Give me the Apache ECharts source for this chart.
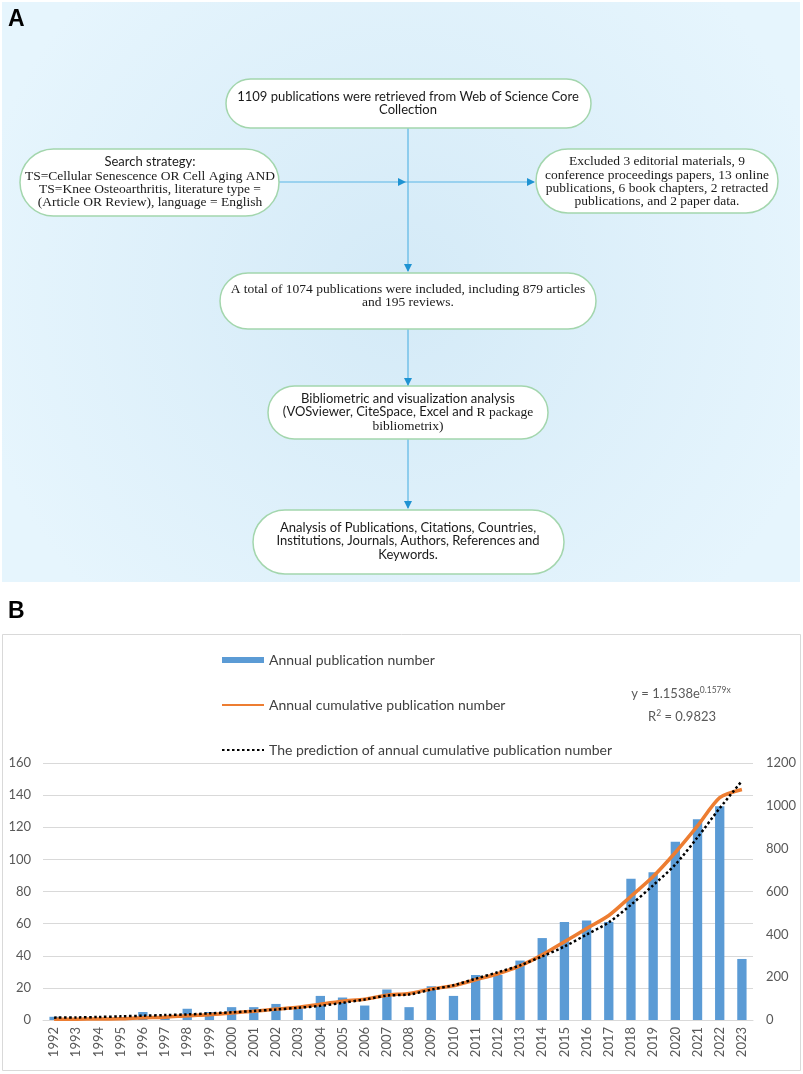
<!DOCTYPE html>
<html>
<head>
<meta charset="utf-8">
<script src="https://cdn.jsdelivr.net/npm/echarts@6/dist/echarts.min.js"></script>
<style>
html,body{margin:0;padding:0;background:#fff;}
#main{width:803px;height:1074px;}
</style>
</head>
<body>
<div id="main"></div>
<script>
// ---- data ----
const years = ['1992','1993','1994','1995','1996','1997','1998','1999','2000','2001','2002','2003','2004','2005','2006','2007','2008','2009','2010','2011','2012','2013','2014','2015','2016','2017','2018','2019','2020','2021','2022','2023'];
const annualPublications = [2,1,1,1,5,2,7,5,8,8,10,8,15,14,9,19,8,21,15,28,28,37,51,61,62,61,88,92,111,125,133,38];
const cumulativePublications = [3,4,5,6,11,13,20,25,33,41,51,59,74,88,97,116,124,145,160,188,216,253,304,365,427,488,578,670,782,906,1038,1076];
const predictedCumulative = [11,12,14,17,20,23,26,31,36,42,49,57,66,80,96,114,119,142,162,193,223,255,297,343,399,456,538,629,726,853,989,1116];
const leftTicks = {min:0, max:160, interval:20};
const rightTicks = {min:0, max:1200, interval:200};
const seriesNames = ['Annual publication number','Annual cumulative publication number','The prediction of annual cumulative publication number'];

const SANS = 'Lato, "Liberation Sans", sans-serif';
const SERIF = '"Liberation Serif", "DejaVu Serif", serif';

// ---- flowchart (panel A) ----
const G = [];
G.push({type:'rect', z:0, shape:{x:2,y:2,width:798,height:580},
  style:{fill:{type:'radial',x:0.5,y:0.5,r:0.75,colorStops:[{offset:0,color:'#d4eaf7'},{offset:1,color:'#e6f5fd'}]}}});
G.push({type:'text', z:5, style:{text:'A', x:8, y:8, font:'bold 23px "Liberation Sans", Arial, sans-serif', fill:'#000'}});
function box(x1,y1,x2,y2){
  G.push({type:'rect', z:2, shape:{x:x1,y:y1,width:x2-x1,height:y2-y1,r:(y2-y1)/2},
    style:{fill:'#ffffff', stroke:'#a3d6ad', lineWidth:1.5}});
}
function txt(x,y,text,font,rich){
  const s = {text:text, x:x, y:y, align:'center', verticalAlign:'middle', fill:'#1a1a1a', font:font};
  if(rich) s.rich = rich;
  G.push({type:'text', z:5, style:s});
}
function line(x1,y1,x2,y2){
  G.push({type:'line', z:1, shape:{x1,y1,x2,y2}, style:{stroke:'#5ab6e5', lineWidth:1.2}});
}
function arrowDown(x,y){
  G.push({type:'polygon', z:3, shape:{points:[[x-4,y-8],[x+4,y-8],[x,y]]}, style:{fill:'#1f93d2'}});
}
function arrowRight(x,y){
  G.push({type:'polygon', z:3, shape:{points:[[x-8,y-4],[x-8,y+4],[x,y]]}, style:{fill:'#1f93d2'}});
}
line(408,128,408,271); arrowDown(408,272);
line(279,182,534,182); arrowRight(406,182); arrowRight(535,182);
line(408,329,408,385); arrowDown(408,386);
line(408,439,408,508); arrowDown(408,509);

const SF = '13.5px '+SERIF;
const NF = '13px '+SANS;

box(226,79,591,128);
txt(408,97,'1109 publications were retrieved from Web of Science Core',NF);
txt(408,110,'Collection',NF);

box(20,149,279,216);
txt(150,162,'Search strategy:',NF);
txt(150,176,'TS=Cellular Senescence OR Cell Aging AND',SF);
txt(150,189,'TS=Knee Osteoarthritis, literature type =',SF);
txt(150,202,'(Article OR Review), language = English',SF);

box(536,149,778,213);
txt(657,161,'Excluded 3 editorial materials, 9',SF);
txt(657,175,'conference proceedings papers, 13 online',SF);
txt(657,188,'publications, 6 book chapters, 2 retracted',SF);
txt(657,201,'publications, and 2 paper data.',SF);

box(220,273,596,329);
txt(408,289,'A total of 1074 publications were included, including 879 articles',SF);
txt(408,302,'and 195 reviews.',SF);

box(268,386,548,439);
txt(408,399,'Bibliometric and visualization analysis',NF);
txt(408,412,'{a|(VOSviewer, CiteSpace, Excel and }{b|R package}',NF,
  {a:{fontFamily:'Lato',fontSize:13,fill:'#1a1a1a'}, b:{fontFamily:'Liberation Serif',fontSize:13.5,fill:'#1a1a1a'}});
txt(408,426,'bibliometrix)',SF);

box(253,510,564,574);
txt(408,528,'Analysis of Publications, Citations, Countries,',NF);
txt(408,541,'Institutions, Journals, Authors, References and',NF);
txt(408,555,'Keywords.',NF);

// ---- panel B decorations ----
G.push({type:'text', z:5, style:{text:'B', x:8, y:600, font:'bold 23px "Liberation Sans", Arial, sans-serif', fill:'#000'}});
G.push({type:'rect', z:-1, shape:{x:2.5,y:634.5,width:798,height:436}, style:{fill:'#fff', stroke:'#d9d9d9', lineWidth:1}});
const eqRich = {a:{fontFamily:'Lato',fontSize:13,fill:'#595959',lineHeight:15,verticalAlign:'bottom'},
                s:{fontFamily:'Lato',fontSize:8.5,fill:'#595959',lineHeight:13,verticalAlign:'top'}};
G.push({type:'text', z:5, style:{text:'{a|y = 1.1538e}{s|0.1579x}', x:681, y:693, align:'center', verticalAlign:'middle', rich:eqRich}});
G.push({type:'text', z:5, style:{text:'{a|R}{s|2}{a| = 0.9823}', x:682, y:716, align:'center', verticalAlign:'middle', rich:eqRich}});

const chart = echarts.init(document.getElementById('main'), null, {renderer:'canvas'});
chart.setOption({
  animation:false,
  backgroundColor:'#ffffff',
  textStyle:{fontFamily:'Lato'},
  graphic:G,
  legend:{
    orient:'vertical', left:221, top:653, padding:0,
    itemWidth:42, itemHeight:6, itemGap:31,
    textStyle:{fontSize:14, color:'#404040', fontFamily:'Lato'},
    data:[{name:seriesNames[0], icon:'rect'},
          {name:seriesNames[1], itemStyle:{opacity:0}},
          {name:seriesNames[2], itemStyle:{opacity:0}}]
  },
  grid:{left:43, right:50, top:763, height:257},
  xAxis:{
    type:'category', data:years, boundaryGap:true,
    axisLine:{lineStyle:{color:'#d9d9d9'}}, axisTick:{show:false},
    axisLabel:{rotate:90, interval:0, color:'#595959', fontSize:13, margin:7, fontFamily:'Lato'}
  },
  yAxis:[
    {type:'value', min:leftTicks.min, max:leftTicks.max, interval:leftTicks.interval,
     axisLine:{show:false}, axisTick:{show:false},
     splitLine:{lineStyle:{color:'#d9d9d9'}},
     axisLabel:{color:'#595959', fontSize:13, margin:12, fontFamily:'Lato', formatter:v=>String(v)}},
    {type:'value', min:rightTicks.min, max:rightTicks.max, interval:rightTicks.interval, position:'right',
     axisLine:{show:false}, axisTick:{show:false}, splitLine:{show:false},
     axisLabel:{color:'#595959', fontSize:13, margin:13, fontFamily:'Lato', formatter:v=>String(v)}}
  ],
  series:[
    {name:seriesNames[0], type:'bar', data:annualPublications, barWidth:'42%', itemStyle:{color:'#5b9bd5'}, z:2},
    {name:seriesNames[1], type:'line', yAxisIndex:1, data:cumulativePublications, smooth:0.25, symbol:'none',
     lineStyle:{color:'#ed7d31', width:3.5}, itemStyle:{color:'#ed7d31'}, z:3},
    {name:seriesNames[2], type:'line', yAxisIndex:1, data:predictedCumulative, smooth:0.3, symbol:'none',
     lineStyle:{color:'#000000', width:2.5, type:[2.5,2.5]}, itemStyle:{color:'#000000'}, z:4}
  ]
});
</script>
</body>
</html>
